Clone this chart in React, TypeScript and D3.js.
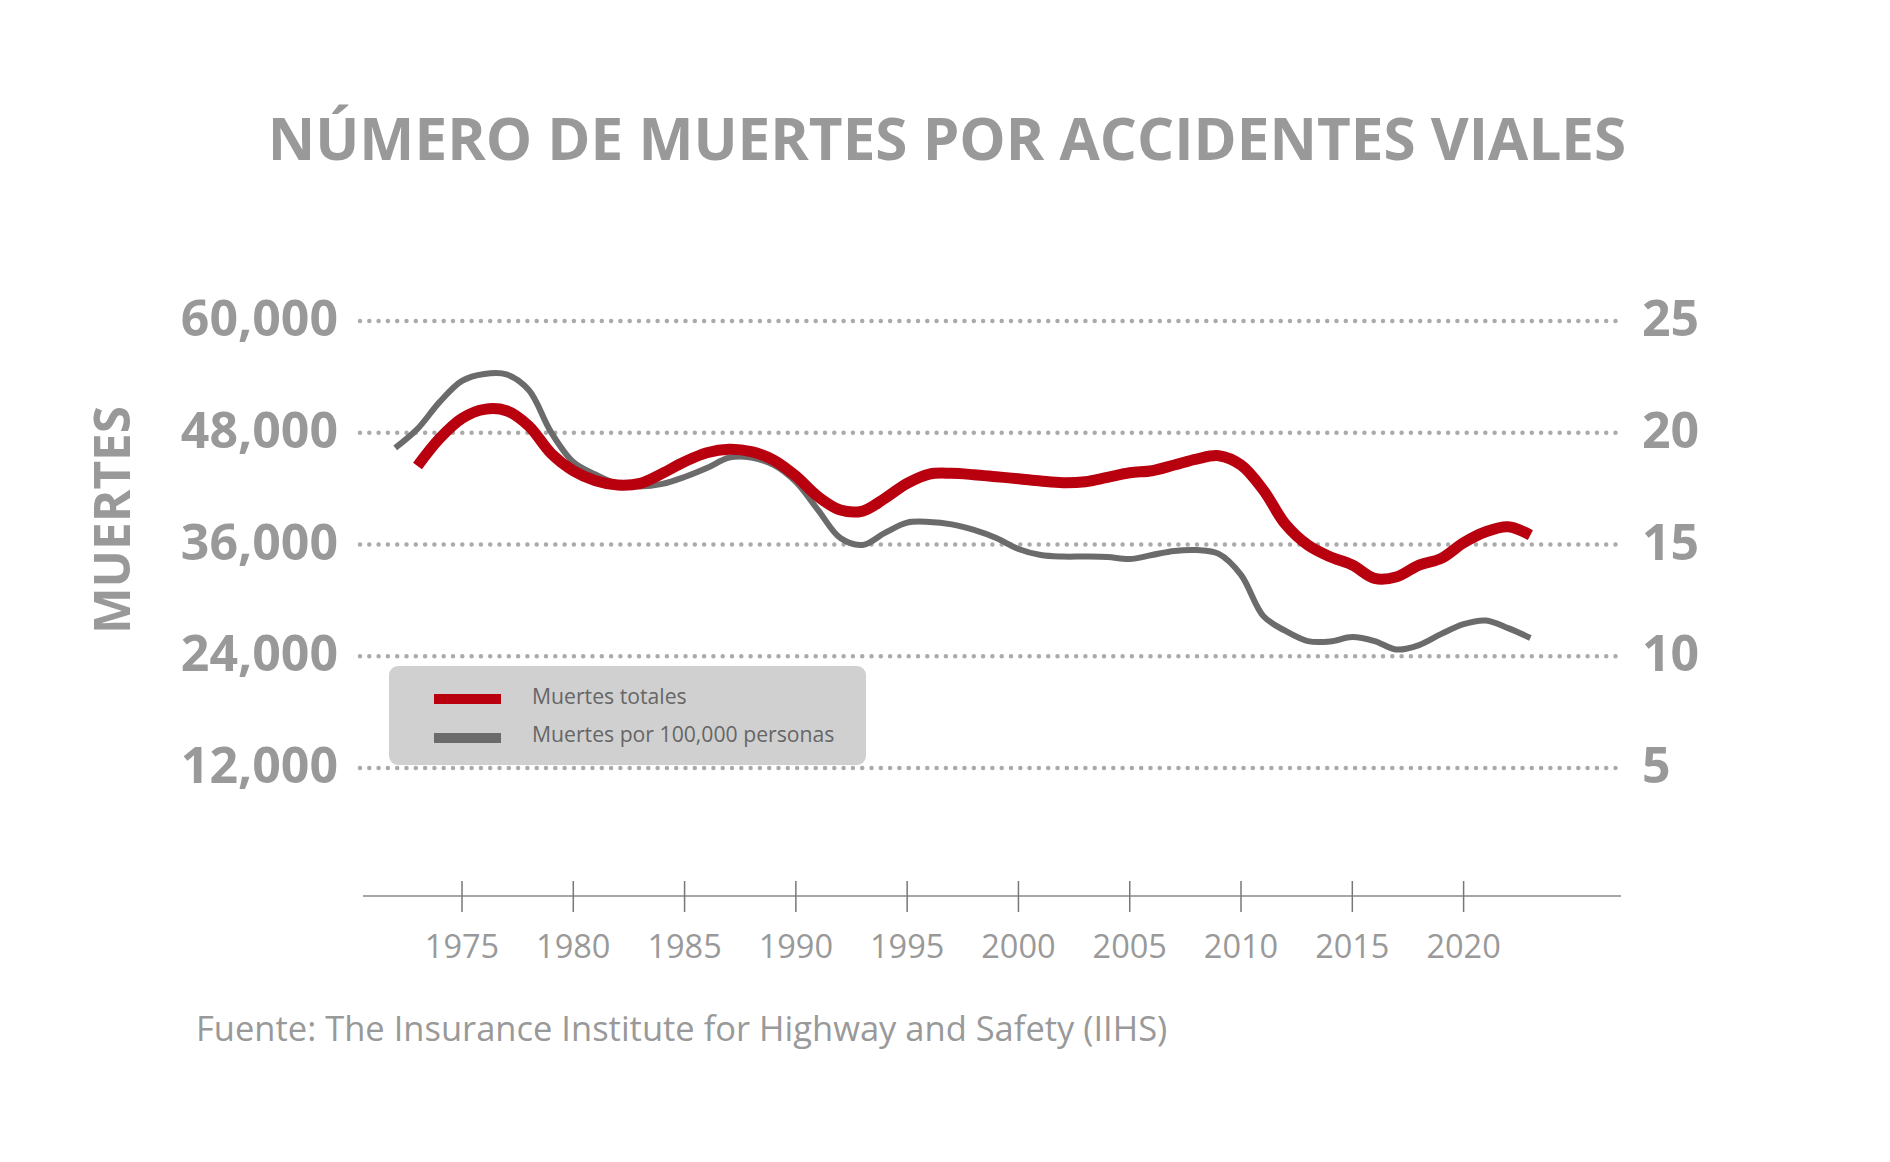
import React from "react";
import * as d3 from "d3";

const redYears: number[] = d3.range(1973, 2024);
const redValues: number[] = [
  44427, 47402, 49550, 50516, 50366, 48724, 45790, 43922, 42848, 42386,
  42567, 43643, 44889, 45856, 46221, 45963, 45071, 43353, 41130, 39700,
  39594, 40958, 42567, 43568, 43643, 43493, 43278, 43063, 42816, 42633,
  42741, 43213, 43707, 43922, 44534, 45179, 45535, 44534, 41850, 38166,
  35942, 34686, 33795, 32366, 32538, 33795, 34513, 36190, 37371, 37909,
  37016,
];

const grayYears: number[] = d3.range(1972, 2024);
const grayValues: number[] = [
  19.32, 20.17, 21.38, 22.32, 22.63, 22.61, 21.91, 20.03, 18.69, 18.13,
  17.71, 17.6, 17.71, 18.02, 18.42, 18.89, 18.89, 18.56, 17.8, 16.54,
  15.29, 14.98, 15.52, 15.98, 16.01, 15.9, 15.65, 15.29, 14.8, 14.53,
  14.46, 14.46, 14.44, 14.35, 14.53, 14.71, 14.75, 14.58, 13.64, 11.8,
  11.13, 10.68, 10.66, 10.86, 10.68, 10.3, 10.5, 11.0, 11.44, 11.6,
  11.26, 10.82,
];

const leftTicks: number[] = [60000, 48000, 36000, 24000, 12000];
const rightTicks: number[] = [25, 20, 15, 10, 5];
const xTicks: number[] = [1975, 1980, 1985, 1990, 1995, 2000, 2005, 2010, 2015, 2020];

const title = "NÚMERO DE MUERTES POR ACCIDENTES VIALES";
const yLabel = "MUERTES";
const legendLabels = ["Muertes totales", "Muertes por 100,000 personas"];
const source = "Fuente: The Insurance Institute for Highway and Safety (IIHS)";

const RED = "#b8000f";
const GRAY = "#6b6b6b";
const TEXT = "#999999";
const FONT = "'Open Sans', sans-serif";

export default function App() {
  const W = 1890;
  const H = 1162;
  const x = d3.scaleLinear().domain([1975, 2020]).range([462, 1463.6]);
  const yL = d3.scaleLinear().domain([12000, 60000]).range([768, 321]);
  const yR = d3.scaleLinear().domain([5, 25]).range([768, 321]);

  const redLine = d3
    .line<number>()
    .x((_, i) => x(redYears[i]))
    .y((d) => yL(d))
    .curve(d3.curveCatmullRom.alpha(0.5));
  const grayLine = d3
    .line<number>()
    .x((_, i) => x(grayYears[i]))
    .y((d) => yR(d))
    .curve(d3.curveCatmullRom.alpha(0.5));

  const gridX0 = 360;
  const gridX1 = 1617;
  const axisY = 896;

  return (
    <svg
      width={W}
      height={H}
      style={{ position: "absolute", left: 0, top: 0, background: "#fff" }}
      fontFamily={FONT}
    >
      <text x={947} y={160} textAnchor="middle" fontSize={58.4} fontWeight={700} fill={TEXT}>
        {title}
      </text>

      {leftTicks.map((t) => (
        <g key={t}>
          <line
            x1={gridX0}
            x2={gridX1}
            y1={yL(t)}
            y2={yL(t)}
            stroke="#aaaaaa"
            strokeWidth={4.5}
            strokeLinecap="round"
            strokeDasharray="0 9.3"
          />
          <text x={338} y={yL(t) + 15} textAnchor="end" fontSize={50} fontWeight={700} fill={TEXT}>
            {d3.format(",")(t)}
          </text>
        </g>
      ))}
      {rightTicks.map((t) => (
        <text key={t} x={1642} y={yR(t) + 15} textAnchor="start" fontSize={50} fontWeight={700} fill={TEXT}>
          {t}
        </text>
      ))}

      <text
        transform="translate(130,520) rotate(-90)"
        textAnchor="middle"
        fontSize={49.5}
        fontWeight={700}
        fill={TEXT}
      >
        {yLabel}
      </text>

      <line x1={363} x2={1621} y1={axisY} y2={axisY} stroke="#888" strokeWidth={1.5} />
      {xTicks.map((t) => (
        <g key={t}>
          <line x1={x(t)} x2={x(t)} y1={881} y2={912} stroke="#777" strokeWidth={1.5} />
          <text x={x(t)} y={958} textAnchor="middle" fontSize={32.5} fill={TEXT}>
            {t}
          </text>
        </g>
      ))}

      <path d={grayLine(grayValues) || ""} fill="none" stroke={GRAY} strokeWidth={6} />
      <path d={redLine(redValues) || ""} fill="none" stroke={RED} strokeWidth={11} />

      <rect x={389} y={666} width={477} height={99} rx={9} fill="#d0d0d0" />
      <rect x={434} y={694} width={67} height={10} fill={RED} />
      <rect x={434} y={733} width={67} height={10} fill={GRAY} />
      <text x={532} y={704} fontSize={21.2} fill="#666">
        {legendLabels[0]}
      </text>
      <text x={532} y={742} fontSize={21.2} fill="#666">
        {legendLabels[1]}
      </text>

      <text x={196} y={1041} fontSize={34.5} fill={TEXT}>
        {source}
      </text>
    </svg>
  );
}
